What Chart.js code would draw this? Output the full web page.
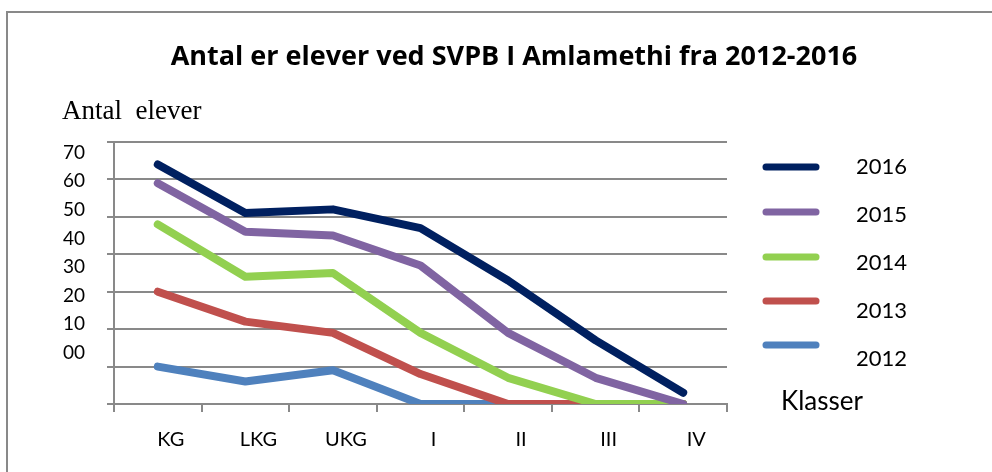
<!DOCTYPE html>
<html>
<head>
<meta charset="utf-8">
<title>Antal elever</title>
<script src="https://cdn.jsdelivr.net/npm/chart.js@4.4.1/dist/chart.umd.min.js"></script>
<style>
    html, body { margin: 0; padding: 0; background: #fff; overflow: hidden; }
    #frame { position: absolute; left: 6px; top: 11px; width: 1100px; height: 600px; border: 2px solid #898989; }
    #chart { position: absolute; left: 0; top: 0; }
</style>
</head>
<body>
<div id="frame"></div>
<canvas id="chart" width="1028" height="472"></canvas>
<script>
const classes = ['KG', 'LKG', 'UKG', 'I', 'II', 'III', 'IV'];
const years = ['2016', '2015', '2014', '2013', '2012'];
const students2016 = [64, 51, 52, 47, 33, 17, 3];
const students2015 = [59, 46, 45, 37, 19, 7, 0];
const students2014 = [48, 34, 35, 19, 7, 0, 0];
const students2013 = [30, 22, 19, 8, 0, 0, 0];
const students2012 = [10, 6, 9, 0, 0, 0, 0];
const yTickValues = [0, 10, 20, 30, 40, 50, 60, 70];
const yTickLabels = ['00', '10', '20', '30', '40', '50', '60', '70'];

const chartTitle = 'Antal er elever ved SVPB I Amlamethi fra 2012-2016';
const yTitle = 'Antal  elever';
const xTitle = 'Klasser';

const colors = ['#002060', '#8064A2', '#92D050', '#C0504D', '#4F81BD'];
const allValues = [students2016, students2015, students2014, students2013, students2012];
// in the original the legend markers drift up against their texts
const markShift = [0, -3, -6, -10, -14];

const GRID = '#898989';
const CANVAS_W = 1028;   // wider than the window: the original frame is cut off on the right
const PLOT_RIGHT = 727;

function legendMark(color, dy) {
    const c = document.createElement('canvas');
    c.width = 92;
    c.height = 40;
    const g = c.getContext('2d');
    g.strokeStyle = color;
    g.lineWidth = 7;
    g.lineCap = 'round';
    g.beginPath();
    g.moveTo(13, 20 + dy);
    g.lineTo(63, 20 + dy);
    g.stroke();
    return c;
}

// loose texts of the original: axis caption top left, "Klasser" beside the x axis
const looseText = {
    id: 'looseText',
    afterDraw(chart) {
        const { ctx, chartArea } = chart;
        ctx.save();
        ctx.fillStyle = '#000';
        ctx.textBaseline = 'alphabetic';
        ctx.textAlign = 'left';
        ctx.font = '27px "Liberation Serif"';
        ctx.fillText(yTitle, 62, 119);
        ctx.font = '26px Lato';
        ctx.fillText(xTitle, chartArea.right + 54, chartArea.bottom + 6);
        ctx.restore();
    }
};

const datasets = years.map((year, i) => ({
    label: year,
    data: allValues[i],
    borderColor: colors[i],
    backgroundColor: colors[i],
    borderWidth: 8,
    borderCapStyle: 'round',
    borderJoinStyle: 'round',
    pointRadius: 0,
    pointHoverRadius: 0,
    pointStyle: legendMark(colors[i], markShift[i]),
    tension: 0,
    fill: false
}));

new Chart(document.getElementById('chart'), {
    type: 'line',
    data: { labels: classes, datasets: datasets },
    options: {
        responsive: false,
        animation: false,
        events: [],
        layout: { padding: 0 },
        plugins: {
            title: {
                display: true,
                text: chartTitle,
                color: '#000',
                font: { family: 'Open Sans', size: 27, weight: 'bold' },
                padding: { top: 41, bottom: 68.6 }
            },
            legend: {
                position: 'right',
                align: 'start',
                maxWidth: 220,
                title: { display: true, text: '', font: { size: 12 }, padding: { top: 0, bottom: 115.6 } },
                labels: {
                    usePointStyle: true,
                    pointStyleWidth: 92,
                    padding: 26,
                    color: '#000',
                    font: { family: 'Lato', size: 22 }
                }
            },
            tooltip: { enabled: false }
        },
        scales: {
            x: {
                type: 'category',
                offset: true,
                grid: { display: true, offset: true, drawOnChartArea: false, drawTicks: true, tickLength: 8, color: GRID, lineWidth: 2 },
                border: { display: true, color: GRID, width: 2 },
                ticks: { color: '#000', font: { family: 'Lato', size: 20 }, padding: 16, labelOffset: 13, maxRotation: 0, autoSkip: false },
                afterFit: s => { s.height = 68; }
            },
            y: {
                position: 'left',
                weight: 0,
                min: 0,
                max: 70,
                ticks: { display: false, stepSize: 10 },
                grid: { color: GRID, lineWidth: 2, drawTicks: true, tickLength: 7 },
                border: { display: true, color: GRID, width: 2 },
                afterFit: s => { s.width = 7; }
            },
            yLab: {
                type: 'linear',
                position: 'left',
                weight: 1,
                min: -17.96,
                max: 73.74,
                grid: { display: false, drawTicks: false },
                border: { display: false },
                ticks: {
                    color: '#000',
                    font: { family: 'Lato', size: 19 },
                    padding: 22,
                    callback: (v, i) => yTickLabels[i]
                },
                afterBuildTicks: s => { s.ticks = yTickValues.map(v => ({ value: v })); },
                afterFit: s => { s.width = 107; }
            },
            pad: {
                type: 'linear',
                position: 'right',
                weight: 2000,
                display: true,
                grid: { display: false, drawTicks: false },
                border: { display: false },
                ticks: { display: false },
                afterFit: s => { s.width = Math.max(0, CANVAS_W - PLOT_RIGHT - s.chart.legend.width); }
            }
        }
    },
    plugins: [looseText]
});
</script>
</body>
</html>
